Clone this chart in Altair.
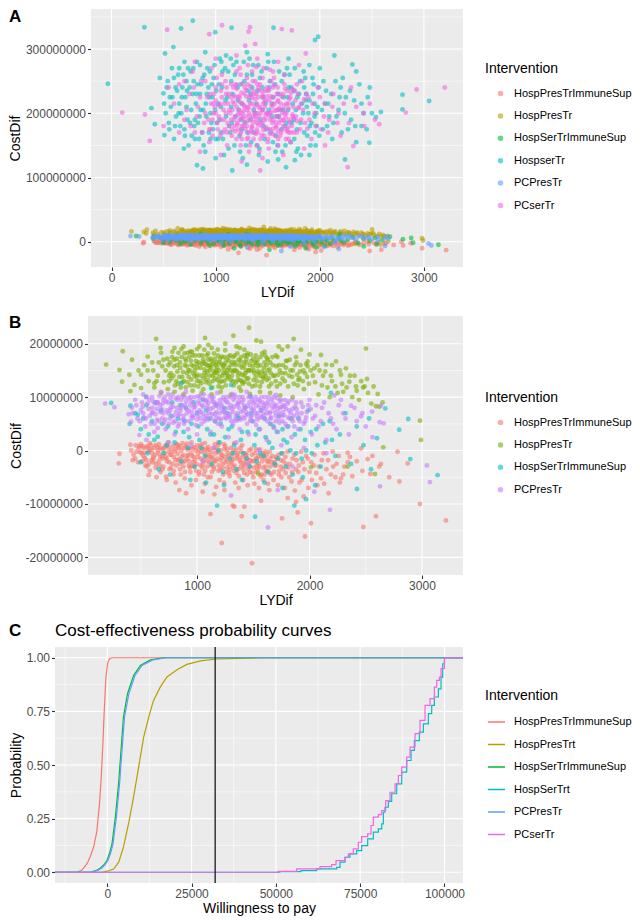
import altair as alt
import pandas as pd

FONT = "Liberation Sans"

A_NAMES = ["HospPresTrImmuneSup", "HospPresTr", "HospSerTrImmuneSup", "HospserTr", "PCPresTr", "PCserTr"]
A_COLORS = ["#F8766D", "#B79F00", "#00BA38", "#00BFC4", "#619CFF", "#F564E3"]
B_NAMES = ["HospPresTrImmuneSup", "HospPresTr", "HospSerTrImmuneSup", "PCPresTr"]
B_COLORS = ["#F8766D", "#7CAE00", "#00BFC4", "#C77CFF"]
C_NAMES = ["HospPresTrImmuneSup", "HospPresTrt", "HospSerTrImmuneSup", "HospSerTrt", "PCPresTr", "PCserTr"]
C_COLORS = ["#F8766D", "#B79F00", "#00BA38", "#00BFC4", "#619CFF", "#F564E3"]

# (LYDif, CostDif in units of 100 000)
hosp_pres_immune = [
    (1489, -211), (1219, -173), (1960, -161), (2013, -136), (2479, -143), (2591, -123), (2982, -100), (3213, -131),
    (1119, -119), (1397, -123), (1756, -127), (1895, -116), (1332, -105), (310, -6), (304, -24), (407, 11),
    (428, -18), (570, -46), (724, -49), (843, -74), (902, -80), (1050, -77), (1154, -82), (1243, -74),
    (1317, -103), (1421, -105), (1569, -94), (1643, -74), (1806, -89), (1880, -96), (1948, -86), (2102, -52),
    (2280, -52), (2339, -4), (2458, 4), (2517, -16), (2541, -44), (2635, -25), (2709, -50), (2783, -2),
    (2873, -24), (2206, -2),
    (480, 5), (520, -10), (560, 8), (600, -5), (630, 10), (660, -20), (690, 3), (720, -12), (750, 6), (780, -25),
    (800, -2), (820, 12), (840, -15), (860, 0), (880, -30), (900, 8), (920, -8), (940, -40), (960, 4), (980, -18),
    (1000, 10), (1010, -5), (1030, -28), (1050, 2), (1060, -45), (1080, -12), (1100, 7), (1110, -22), (1130, -3),
    (1150, -35), (1160, 12), (1180, -15), (1200, -55), (1210, 0), (1230, -25), (1250, 8), (1260, -40), (1280, -10),
    (1300, 5), (1320, -30), (1340, -60), (1360, -5), (1380, -18), (1400, 10), (1420, -42), (1440, -8), (1460, -25),
    (1480, 3), (1500, -50), (1520, -15), (1540, -35), (1560, 2), (1580, -20), (1600, -45), (1620, -8), (1650, -30),
    (1680, -55), (1700, -12), (1730, -38), (1760, -5), (1790, -25), (1820, -50), (1850, -15), (1880, -35),
    (1910, -60), (1940, -22), (1970, -10), (2000, -40), (2040, -28), (2070, -65), (2110, -18), (2150, -35),
    (2190, -45), (2240, -25), (2270, -60), (2310, -30), (2360, -12), (2420, -20),
    (450, -15), (500, 12), (540, -28), (580, -38), (610, -12), (640, -50), (670, 5), (700, -30), (730, -55),
    (760, -8), (790, -45), (810, -60), (850, -35), (870, 14), (890, -52), (930, -20), (950, -65), (970, -30),
    (990, -55), (1020, -40), (1040, 12), (1070, -62), (1090, -30), (1120, -50), (1140, -12), (1170, -68),
    (1190, -38), (1220, -14), (1240, -60), (1270, -32), (1290, -48), (1310, -5), (1350, -42), (1370, -70),
    (1390, -30), (1410, -55), (1430, -20), (1450, -65), (1470, -40), (1510, -62), (1530, -28), (1550, -70),
    (1590, -55), (1610, -30), (1630, -62), (1660, -45), (1690, -22), (1720, -65), (1750, -50), (1780, -70),
    (1810, -32), (1840, -58), (1870, -75), (1900, -40), (1930, -55), (1990, -70), (2020, -55), (2060, -42),
    (2130, -62), (2170, -80), (2230, -50), (2380, -48), (2470, -38), (2620, -30), (2800, -58), (2560, -10),
    (580, 14), (660, 12), (740, 15), (830, 10), (910, 13), (1070, 14), (1240, 12), (1330, 14), (1190, 15), (950, 15),
    (415, 0), (435, -8), (455, 10), (475, -22), (495, -3), (515, 8), (535, -14), (555, -30), (575, 2), (595, -18),
    (615, 5), (635, -25), (655, -5), (675, -40), (695, -15), (715, 8), (735, -20), (755, -35), (775, 0), (795, -12),
    (815, -28), (835, 5), (855, -45), (875, -8), (895, -20), (915, 2), (935, -32), (955, -10), (975, 6), (995, -25),
    (1015, -45), (1035, -2), (1055, -18), (1075, 4), (1095, -50), (1105, -8), (1125, -28), (1145, 5), (1165, -20),
    (1185, -2), (1205, -35), (1225, -8), (1245, 3), (1265, -18), (1285, -42), (1305, -22), (1325, 0), (1345, -15),
    (1365, -35), (1385, 5), (1405, -12), (1425, -28), (1445, -45), (1465, 0), (1485, -20), (1505, -32), (1525, 2),
    (1545, -10), (1565, -48), (1585, -5), (1605, -15), (1625, -38), (1645, -2), (1665, -22), (1685, -40),
    (1705, -28), (1725, -8), (1745, -18), (1765, -35), (1785, -12), (1805, -2), (1825, -25), (1845, -40),
    (1865, -8), (1885, -18), (1905, -28), (1925, -2), (1955, -35), (1985, -15), (2015, -22), (2045, -8),
    (2085, -30), (2125, -5), (2165, -18), (2210, -30), (2260, -10), (2300, -45), (2340, -22),
    (505, -5), (525, 5), (548, -18), (568, -2), (588, 10), (608, -22), (628, -8), (648, 6), (668, -28), (688, -10),
    (708, 4), (728, -15), (748, -2), (768, -32), (788, 8), (808, -18), (828, -6), (848, -25), (868, -12), (888, 5),
    (908, -15), (928, -28), (948, -5), (968, -22), (988, 0), (1008, -12), (1028, 8), (1048, -32), (1068, -5),
    (1088, -20), (1108, 2), (1128, -15), (1148, -30), (1168, -5), (1188, 10), (1208, -18), (1228, -32),
    (1248, -12), (1268, 2), (1288, -25), (1308, -12), (1328, -38), (1348, 2), (1368, -12), (1388, -22),
    (1408, -35), (1428, -5), (1448, -15), (1468, -30), (1488, -8), (1508, -20), (1528, -40), (1548, -25),
    (1568, -12), (1588, -32), (1608, -2), (1628, -20), (1648, -42), (1668, -10), (1688, -28), (1708, -15),
    (1728, -45), (1748, -30), (1768, -20), (1788, -42),
    (462, -2), (488, 8), (512, -20), (532, -4), (552, 6), (572, -25), (592, 2), (612, -15), (632, -32), (652, 0),
    (672, -12), (692, -35), (712, -5), (732, 10), (752, -22), (772, -8), (792, -38), (812, 3), (832, -18),
    (852, 8), (872, -22), (892, -40), (912, -10), (932, 4), (952, -28), (972, -12), (992, -38), (1012, 2),
    (1032, -15), (1052, -25), (1072, -38), (1092, 0), (1112, -12), (1132, -40), (1152, -20), (1172, 3),
    (1192, -28), (1212, -8), (1232, -45), (1252, -22), (1272, -5), (1292, -35), (1312, -18), (1332, -28),
    (1352, -8), (1372, -48), (1392, -2), (1412, -25), (1432, -10), (1452, -35), (1472, -18), (1492, -42),
    (1512, -5), (1532, -15), (1552, -30), (1572, -45), (1592, -10), (1612, -38), (1632, -22), (1652, -15),
]

hosp_pres = [
    (191, 161), (339, 186), (310, 151), (333, 129), (407, 111), (422, 170), (636, 209), (675, 192), (1071, 211),
    (1323, 215), (1462, 230), (1527, 206), (1569, 204), (1859, 209), (2502, 191), (2982, 56), (2991, 20),
    (2656, 6), (2582, -44), (2591, 83), (2570, 120), (2511, 134), (2476, 118), (2413, 120), (2606, 106),
    (2354, 129), (2324, 154), (2236, 167), (2147, 161), (2102, 179), (2043, 154), (1984, 167), (1924, 189),
    (1806, 195), (1756, 189), (1726, 195), (1622, 173), (1530, 164), (1421, 189), (1184, 189), (1065, 189),
    (917, 183), (799, 192), (680, 183), (561, 176), (502, 142), (398, 142), (443, 123), (502, 117), (621, 126),
    (680, 108), (2013, -31), (1545, -43), (2339, -30),
    (720, 150), (760, 165), (790, 140), (820, 172), (850, 155), (870, 128), (890, 160), (910, 145), (930, 175),
    (950, 133), (970, 158), (990, 168), (1000, 142), (1010, 120), (1030, 155), (1045, 178), (1060, 135),
    (1075, 162), (1090, 148), (1100, 170), (1110, 125), (1125, 155), (1140, 140), (1150, 182), (1165, 160),
    (1180, 132), (1195, 150), (1205, 172), (1220, 118), (1235, 145), (1250, 163), (1265, 135), (1280, 155),
    (1295, 178), (1310, 140), (1325, 122), (1340, 160), (1355, 148), (1370, 170), (1385, 132), (1400, 155),
    (1420, 140), (1440, 165), (1460, 125), (1480, 150), (1500, 172), (1520, 138), (1540, 158), (1560, 120),
    (1580, 148), (1600, 165), (1620, 132), (1645, 152), (1670, 175), (1690, 140), (1710, 120), (1730, 160),
    (1755, 145), (1780, 130), (1800, 168), (1830, 150), (1860, 125), (1890, 142), (1920, 160), (1950, 115),
    (1980, 138), (2010, 150), (2050, 128), (2080, 105), (2120, 140), (2160, 118), (2200, 130), (2250, 108),
    (2290, 125), (2380, 100), (2440, 95), (2520, 108), (2550, 88),
    (740, 115), (800, 110), (880, 105), (960, 112), (1040, 108), (1130, 105), (1210, 110), (1300, 104),
    (1390, 112), (1470, 106), (1560, 110), (1650, 108), (1740, 103), (1850, 100),
    (700, 170), (780, 185), (860, 190), (940, 185), (1020, 195), (1130, 192), (1250, 188), (1350, 195),
    (1450, 182), (1600, 185), (1700, 178), (1880, 175), (2000, 180), (2200, 160), (2280, 142),
    (650, 140), (690, 158), (750, 130), (830, 125), (900, 118), (980, 150), (1055, 170), (1115, 140),
    (1175, 165), (1240, 130), (1315, 165), (1375, 118), (1435, 150), (1510, 145), (1590, 135), (1660, 125),
    (1720, 142), (1790, 155), (1900, 132), (2090, 150), (560, 150), (600, 165), (620, 118), (1960, 145),
    (2400, 140), (2460, 130), (2300, 110), (2180, 100), (1000, 130), (1150, 148), (1230, 158), (1270, 142),
    (1420, 128), (1330, 150), (1080, 128), (950, 160), (1190, 120), (2650, 90), (2620, 82),
    (705, 128), (735, 172), (765, 145), (795, 158), (815, 130), (835, 183), (855, 118), (875, 147), (895, 172),
    (915, 128), (935, 150), (955, 185), (975, 122), (995, 138), (1015, 165), (1035, 140), (1055, 115),
    (1065, 152), (1085, 178), (1095, 132), (1105, 158), (1120, 172), (1135, 118), (1145, 163), (1160, 135),
    (1170, 150), (1185, 178), (1200, 128), (1215, 162), (1225, 140), (1240, 175), (1255, 122), (1270, 150),
    (1285, 168), (1300, 132), (1320, 148), (1335, 178), (1345, 128), (1365, 140), (1378, 160), (1392, 175),
    (1405, 125), (1415, 165), (1430, 145), (1445, 178), (1455, 135), (1470, 160), (1490, 120), (1505, 150),
    (1515, 165), (1535, 130), (1550, 145), (1565, 175), (1575, 128), (1595, 155), (1610, 140), (1630, 170),
    (1640, 120), (1655, 145), (1675, 160), (1700, 130), (1715, 175), (1740, 125), (1765, 160), (1785, 145),
    (1810, 120), (1825, 170), (1845, 138), (1870, 160), (1895, 122), (1915, 148), (1940, 130), (1970, 162),
    (1995, 125), (2030, 140), (2070, 160), (2110, 122), (2140, 148), (2190, 140), (2230, 120), (2270, 150),
    (2330, 118), (2360, 140), (2420, 112), (2490, 120), (610, 150), (640, 130), (660, 165), (570, 130),
    (530, 160), (480, 150),
    (745, 160), (772, 135), (798, 170), (825, 148), (848, 165), (868, 138), (888, 182), (908, 158), (925, 138),
    (945, 168), (962, 145), (985, 178), (1002, 155), (1022, 130), (1042, 162), (1068, 145), (1088, 160),
    (1112, 150), (1132, 168), (1158, 145), (1178, 156), (1198, 138), (1218, 176), (1238, 152), (1262, 170),
    (1282, 138), (1302, 160), (1322, 175), (1342, 150), (1362, 132), (1382, 168), (1402, 142), (1422, 178),
    (1442, 135), (1462, 150), (1482, 168), (1502, 132), (1522, 178), (1542, 148), (1562, 160), (1585, 138),
    (1605, 178), (1628, 150), (1650, 165), (1678, 140), (1705, 158), (1735, 150), (1760, 135), (1792, 168),
    (1820, 140), (1852, 150), (1885, 165), (1910, 135), (1945, 150), (1985, 158),
    (752, 140), (778, 175), (803, 122), (822, 160), (842, 138), (862, 175), (882, 130), (902, 168), (922, 150),
    (940, 122), (958, 178), (978, 140), (998, 162), (1018, 178), (1038, 126), (1058, 165), (1078, 140),
    (1098, 182), (1118, 160), (1138, 130), (1158, 172), (1178, 145), (1198, 165), (1218, 130), (1238, 160),
    (1258, 145), (1278, 176), (1298, 150), (1318, 130), (1338, 165), (1358, 182), (1378, 145), (1398, 130),
    (1418, 158), (1438, 172), (1458, 150), (1478, 180), (1498, 158), (1518, 122), (1538, 170), (1558, 140),
    (1578, 182), (1598, 145), (1618, 160), (1638, 135), (880, 195), (1000, 190), (1100, 198), (1250, 200),
    (1380, 192),
]

hosp_ser_immune = [
    (236, 89), (407, 84), (473, 67), (547, 101), (650, 26), (499, -22), (1178, -103), (1516, -124), (1865, -103),
    (1969, -91), (2422, -72), (2547, -35), (2600, 23), (2798, 39), (2878, 59), (2896, -16), (3139, -46),
    (2674, 79), (2191, 108), (858, 126), (1124, 117), (1302, 123), (1480, 101),
    (400, 50), (450, 70), (500, 40), (550, 85), (600, 55), (620, 20), (680, 75), (700, -5), (740, 45), (780, 90),
    (800, 15), (830, 60), (860, -20), (880, 35), (900, 80), (920, 5), (950, 50), (980, -30), (1000, 70),
    (1020, 20), (1050, 95), (1070, -10), (1090, 40), (1110, 60), (1130, -25), (1150, 30), (1170, 85), (1190, 0),
    (1210, 50), (1230, -40), (1250, 25), (1270, 70), (1290, -15), (1310, 45), (1330, 10), (1350, -35), (1370, 60),
    (1390, 20), (1410, -5), (1430, 80), (1450, 35), (1470, -30), (1490, 55), (1510, 10), (1530, -20), (1550, 40),
    (1570, 75), (1590, -10), (1610, 25), (1630, -40), (1650, 50), (1670, 5), (1690, -25), (1710, 35), (1730, 65),
    (1750, -5), (1770, 20), (1790, -30), (1810, 45), (1830, 0), (1850, -45), (1870, 30), (1900, 60), (1930, -15),
    (1960, 20), (1990, 75), (2020, -5), (2060, 40), (2100, -30), (2140, 15), (2180, 55), (2230, -10), (2270, 30),
    (2320, 70), (2370, -25), (2420, 45), (2480, 10), (2530, 60),
    (560, -5), (660, -35), (760, -45), (940, -55), (1080, -60), (1240, -65), (1400, -55), (1600, -60),
    (1760, -70), (1940, -50), (2050, -65),
    (520, 60), (570, 30), (630, 90), (690, 50), (730, 10), (770, 65), (810, 35), (850, 85), (890, 55), (930, 25),
    (970, 90), (1010, 45), (1040, 5), (1080, 75), (1120, 30), (1160, 55), (1200, 15), (1240, 80), (1280, 40),
    (1320, -5), (1360, 65), (1400, 35), (1440, -15), (1480, 70), (1520, 30), (1560, -5), (1600, 60), (1640, 15),
    (1680, 45), (1720, -15), (1760, 40), (1800, 15), (1840, 60), (1880, -5), (1920, 40), (1970, 0), (2010, 35),
    (2070, 10), (2120, 50), (2200, 20),
]

pc_pres = [
    (182, 88), (265, 81), (393, 68), (413, 54), (487, 29), (2221, 103), (2369, 84), (2458, 64), (2556, 73),
    (2635, 84), (2624, 53), (2659, 51), (3044, -28), (3071, -59), (2627, -67), (2182, -111), (1631, -144),
    (1302, -84), (1717, -74), (2043, -77), (2280, 95),
    (420, 80), (450, 95), (470, 60), (500, 75), (520, 105), (540, 45), (560, 88), (580, 65), (600, 100), (620, 35),
    (640, 78), (660, 55), (680, 110), (700, 70), (720, 40), (740, 90), (760, 60), (780, 105), (800, 30), (820, 80),
    (840, 50), (860, 95), (880, 65), (900, 110), (920, 40), (940, 85), (960, 60), (980, 100), (1000, 30),
    (1020, 75), (1040, 50), (1060, 105), (1080, 65), (1100, 90), (1120, 35), (1140, 80), (1160, 55), (1180, 108),
    (1200, 70), (1220, 45), (1240, 95), (1260, 60), (1280, 25), (1300, 85), (1320, 50), (1340, 100), (1360, 70),
    (1380, 40), (1400, 90), (1420, 60), (1440, 110), (1460, 30), (1480, 80), (1500, 55), (1520, 100), (1540, 70),
    (1560, 40), (1580, 90), (1600, 60), (1620, 20), (1640, 85), (1660, 50), (1680, 100), (1700, 65), (1720, 35),
    (1740, 80), (1760, 55), (1780, 95), (1800, 45), (1820, 75), (1840, 25), (1860, 65), (1880, 90), (1900, 40),
    (1930, 70), (1960, 55), (1990, 85), (2020, 30), (2050, 65), (2080, 45), (2110, 80), (2150, 20), (2190, 60),
    (2240, 40), (2300, 70), (2350, 30), (2420, 55), (2500, 45), (2560, 25),
    (520, 70), (600, 80), (700, 95), (760, 75), (830, 65), (890, 85), (950, 72), (1010, 92), (1050, 68),
    (1090, 78), (1130, 98), (1170, 72), (1210, 88), (1250, 78), (1290, 68), (1330, 82), (1370, 92), (1410, 75),
    (1450, 68), (1490, 95), (1530, 85), (1570, 75), (1610, 88), (1650, 72), (1690, 82), (1730, 70), (1770, 85),
    (1810, 62), (1850, 78), (550, 20), (750, 15), (950, 10), (1150, 5), (1350, 15), (1550, 0), (1750, 10),
    (1950, 5), (2150, -5), (1050, -20), (1450, -25), (1850, -30), (650, 90), (870, 102), (1310, 106),
    (1470, 102), (1700, 104),
    (430, 70), (460, 85), (490, 55), (510, 90), (530, 62), (550, 100), (570, 78), (590, 50), (610, 92), (630, 68),
    (650, 42), (670, 85), (690, 60), (710, 100), (730, 75), (750, 50), (770, 88), (790, 65), (810, 98), (830, 45),
    (850, 75), (870, 58), (890, 100), (910, 70), (930, 55), (950, 92), (970, 80), (990, 48), (1005, 65),
    (1025, 100), (1045, 85), (1065, 55), (1085, 95), (1105, 70), (1125, 60), (1145, 100), (1165, 85), (1185, 50),
    (1205, 95), (1225, 75), (1245, 62), (1265, 100), (1285, 80), (1305, 55), (1325, 95), (1345, 65), (1365, 88),
    (1385, 58), (1405, 100), (1425, 80), (1445, 50), (1465, 90), (1485, 65), (1505, 78), (1525, 48), (1545, 95),
    (1565, 62), (1585, 80), (1605, 100), (1625, 55), (1645, 70), (1665, 95), (1685, 42), (1705, 85), (1725, 60),
    (1745, 95), (1765, 72), (1785, 50), (1805, 88), (1825, 60), (1845, 95), (1865, 45), (1885, 78), (1905, 62),
    (1925, 90), (1950, 50), (1975, 72), (2000, 95), (2030, 60), (2060, 85), (2100, 55), (2130, 90), (2170, 70),
    (2210, 50), (2260, 85), (2320, 60), (2400, 80), (2470, 70),
    (605, 72), (625, 88), (645, 58), (665, 102), (685, 78), (705, 52), (725, 92), (745, 70), (765, 98), (785, 82),
    (805, 55), (825, 95), (845, 68), (865, 85), (885, 50), (905, 92), (925, 75), (945, 100), (965, 65), (985, 82),
    (1002, 58), (1018, 88), (1035, 72), (1055, 96), (1072, 60), (1092, 84), (1112, 102), (1132, 68), (1152, 90),
    (1172, 62), (1192, 80), (1212, 58), (1232, 100), (1252, 70), (1272, 90), (1292, 62), (1312, 78), (1332, 104),
    (1352, 56), (1372, 80), (1392, 72), (1412, 95), (1432, 66), (1452, 84), (1472, 56), (1492, 74), (1512, 92),
    (1532, 64), (1552, 82), (1572, 100), (1592, 68), (1612, 78), (1632, 92), (1652, 60), (1672, 80), (1692, 72),
    (1712, 98), (1732, 52), (1752, 82), (1772, 66), (1792, 78), (1812, 92), (1832, 70), (1852, 55), (1872, 82),
    (1892, 70), (1912, 55), (1940, 82), (1970, 62), (2010, 78),
    (515, 82), (545, 60), (575, 95), (598, 70), (622, 50), (648, 90), (672, 72), (695, 88), (718, 58), (742, 105),
    (765, 80), (788, 52), (812, 72), (835, 100), (858, 80), (882, 58), (905, 78), (928, 98), (952, 64), (975, 86),
    (998, 72), (1012, 102), (1032, 60), (1052, 82), (1078, 92), (1098, 58), (1118, 78), (1138, 92), (1158, 68),
    (1178, 88), (1198, 60), (1218, 84), (1238, 72), (1258, 92), (1278, 64), (1298, 100), (1318, 72), (1338, 58),
    (1358, 86), (1378, 100), (1398, 62), (1418, 84), (1438, 72), (1458, 100), (1478, 62), (1498, 88), (1518, 70),
    (1538, 58), (1558, 92), (1578, 64), (1598, 84), (1618, 70), (1638, 100), (1658, 62), (1678, 88), (1698, 55),
    (1718, 78), (1738, 92), (1758, 65), (1778, 82),
]

# (LYDif, CostDif in millions)
hosp_ser = [
    (-35, 246), (316, 334), (780, 344), (668, 332), (996, 326), (1153, 333), (1556, 333), (1954, 314), (1985, 319),
    (514, 293), (594, 303), (2313, 276), (2140, 290), (2794, 229), (3050, 219), (2794, 206), (2587, 202),
    (2539, 194), (2476, 154), (821, 119), (878, 114), (1159, 111), (1676, 116), (1760, 127), (2242, 128),
    (508, 166), (416, 183), (383, 208), (464, 255), (498, 231),
    (560, 225), (600, 255), (620, 195), (650, 270), (680, 240), (700, 175), (720, 210), (740, 150), (760, 265),
    (780, 230), (800, 190), (820, 280), (840, 160), (860, 245), (880, 205), (900, 140), (920, 270), (940, 225),
    (960, 185), (980, 255), (1000, 160), (1020, 215), (1040, 285), (1060, 240), (1080, 135), (1100, 195),
    (1120, 265), (1140, 170), (1160, 230), (1180, 150), (1200, 280), (1220, 205), (1240, 245), (1260, 130),
    (1280, 185), (1300, 260), (1320, 220), (1340, 155), (1360, 275), (1380, 200), (1400, 235), (1420, 145),
    (1440, 265), (1460, 180), (1480, 215), (1500, 125), (1520, 250), (1540, 195), (1560, 280), (1580, 165),
    (1600, 230), (1620, 205), (1640, 140), (1660, 260), (1680, 185), (1700, 240), (1720, 155), (1740, 215),
    (1760, 270), (1780, 175), (1800, 230), (1820, 135), (1840, 200), (1860, 255), (1880, 165), (1900, 220),
    (1920, 185), (1940, 245), (1960, 150), (1980, 210), (2000, 270), (2030, 175), (2060, 235), (2090, 195),
    (2120, 160), (2150, 250), (2180, 205), (2210, 170), (2250, 225), (2300, 190), (2350, 155), (2400, 215),
    (2450, 175), (2500, 200),
    (650, 215), (720, 250), (800, 160), (850, 275), (950, 200), (1050, 170), (1150, 250), (1250, 175),
    (1350, 240), (1450, 205), (1550, 155), (1650, 225), (1750, 190), (1850, 240), (1950, 195), (2050, 215),
    (2200, 240), (700, 280), (900, 295), (1100, 290), (1300, 295), (1500, 292), (1700, 285), (1900, 275),
    (1000, 130), (1300, 120), (1600, 128), (1900, 135), (600, 160), (550, 185), (520, 200), (580, 270),
    (2400, 180), (2350, 265),
    (540, 250), (570, 210), (630, 235), (660, 180), (690, 260), (710, 225), (730, 190), (750, 240), (770, 165),
    (790, 250), (810, 215), (830, 185), (850, 230), (870, 170), (890, 260), (910, 195), (930, 240), (950, 160),
    (970, 225), (990, 275), (1010, 185), (1030, 245), (1050, 210), (1070, 160), (1090, 270), (1110, 225),
    (1130, 180), (1150, 210), (1170, 275), (1190, 195), (1210, 240), (1230, 165), (1250, 215), (1270, 280),
    (1290, 150), (1310, 235), (1330, 190), (1350, 260), (1370, 170), (1390, 215), (1410, 275), (1430, 190),
    (1450, 240), (1470, 160), (1490, 270), (1510, 205), (1530, 170), (1550, 225), (1570, 245), (1590, 195),
    (1610, 265), (1630, 175), (1650, 205), (1670, 150), (1690, 225), (1710, 260), (1730, 185), (1750, 235),
    (1770, 205), (1790, 145), (1810, 250), (1830, 215), (1850, 170), (1870, 230), (1890, 200), (1910, 150),
    (1930, 255), (1950, 215), (1970, 180), (1990, 240), (2020, 205), (2070, 180), (2110, 230), (2160, 195),
    (2220, 255), (2270, 175), (2330, 220), (2380, 245), (2460, 225),
    (615, 240), (645, 200), (675, 225), (705, 165), (735, 270), (765, 205), (795, 180), (825, 245), (855, 205),
    (885, 150), (915, 230), (945, 265), (975, 175), (1005, 235), (1035, 190), (1065, 265), (1095, 220),
    (1125, 145), (1155, 185), (1185, 260), (1215, 220), (1245, 190), (1275, 250), (1305, 170), (1335, 230),
    (1365, 205), (1395, 150), (1425, 255), (1455, 225), (1485, 175), (1515, 240), (1545, 215), (1575, 140),
    (1605, 195), (1635, 250), (1665, 180), (1695, 205), (1725, 240), (1755, 160), (1785, 225), (1815, 185),
    (1845, 265), (1875, 210), (1905, 180), (1935, 230), (1965, 200), (1995, 165), (2035, 250), (2080, 215),
    (2130, 185), (2190, 225), (2240, 200), (2290, 235), (2340, 180), (2420, 200), (2480, 240),
    (505, 215), (530, 240), (555, 175), (585, 225), (610, 180), (640, 260), (670, 200), (695, 145), (725, 235),
    (755, 185), (785, 270), (815, 230), (845, 195), (875, 255), (905, 215), (935, 170), (965, 245), (995, 205),
    (1025, 160), (1055, 280), (1145, 285), (1235, 140), (1325, 285), (1415, 135), (1505, 280), (1595, 150),
    (1685, 270), (1775, 140), (1865, 220), (1955, 170),
]

pc_ser = [
    (103, 201), (534, 330), (939, 323), (1061, 337), (1329, 334), (1316, 327), (1635, 331), (1731, 329),
    (3200, 240), (2929, 237), (2826, 201), (2571, 183), (2428, 180), (2322, 149), (2268, 116), (368, 157),
    (320, 198), (1428, 111), (1284, 305), (1380, 308), (1865, 293),
    (600, 215), (650, 245), (700, 190), (750, 230), (780, 265), (800, 170), (830, 210), (860, 250), (890, 185),
    (920, 225), (940, 155), (960, 270), (980, 200), (1000, 240), (1020, 175), (1040, 215), (1060, 260),
    (1080, 190), (1100, 230), (1110, 150), (1130, 205), (1150, 245), (1160, 175), (1180, 215), (1200, 265),
    (1210, 185), (1230, 225), (1250, 160), (1260, 200), (1280, 240), (1300, 180), (1310, 275), (1330, 215),
    (1350, 170), (1360, 195), (1380, 250), (1400, 185), (1410, 225), (1430, 160), (1450, 205), (1460, 270),
    (1480, 190), (1500, 235), (1520, 175), (1540, 210), (1560, 255), (1580, 180), (1600, 220), (1620, 165),
    (1640, 200), (1660, 245), (1680, 175), (1700, 215), (1720, 155), (1740, 195), (1760, 235), (1780, 170),
    (1800, 210), (1830, 250), (1860, 185), (1890, 225), (1920, 160), (1950, 200), (1980, 240), (2010, 175),
    (2050, 215), (2090, 190), (2130, 230), (2180, 200), (2230, 215), (2280, 185), (2350, 210), (2420, 200),
    (2480, 215), (2530, 190),
    (1100, 200), (1150, 190), (1200, 210), (1250, 195), (1300, 205), (1350, 215), (1400, 200), (1450, 185),
    (1500, 200), (1550, 190), (1600, 205), (1250, 180), (1350, 180), (1450, 225), (1150, 225), (1050, 190),
    (1650, 190), (1700, 170), (1300, 160), (1200, 160), (1400, 150), (1500, 155), (1600, 150), (1700, 160),
    (1200, 245), (1400, 245), (1550, 240), (900, 200), (950, 175), (1000, 220), (700, 250), (800, 280),
    (1000, 285), (1200, 290), (1400, 285), (1600, 280), (1800, 275), (850, 140), (1050, 135), (1250, 125),
    (1450, 130), (1650, 135), (1850, 145), (2050, 150), (500, 180), (550, 240), (650, 170), (2200, 165),
    (2300, 240),
    (720, 205), (760, 180), (790, 240), (820, 195), (850, 225), (870, 170), (900, 250), (930, 190), (950, 230),
    (970, 165), (990, 210), (1010, 255), (1030, 195), (1050, 235), (1070, 170), (1085, 215), (1095, 250),
    (1115, 185), (1125, 230), (1140, 200), (1155, 165), (1170, 240), (1185, 195), (1195, 225), (1215, 175),
    (1225, 205), (1240, 260), (1255, 215), (1265, 180), (1275, 230), (1290, 195), (1305, 245), (1315, 170),
    (1325, 225), (1340, 190), (1355, 235), (1365, 160), (1375, 210), (1390, 230), (1395, 175), (1415, 195),
    (1425, 245), (1440, 180), (1455, 215), (1465, 165), (1475, 235), (1490, 200), (1505, 175), (1515, 220),
    (1530, 250), (1545, 185), (1555, 225), (1570, 165), (1585, 205), (1595, 240), (1610, 185), (1625, 215),
    (1635, 175), (1650, 230), (1665, 200), (1675, 160), (1690, 235), (1705, 190), (1715, 225), (1730, 180),
    (1745, 210), (1770, 195), (1790, 230), (1810, 175), (1840, 205), (1870, 230), (1900, 190), (1930, 215),
    (1960, 180), (2000, 225), (2040, 195), (2080, 170), (2120, 210), (2170, 185), (1180, 180), (1280, 210),
    (1380, 195), (1480, 220), (1580, 195), (1680, 215), (1320, 200), (1420, 210), (1520, 200), (1230, 190),
    (1160, 205), (1172, 228), (1188, 172), (1202, 238), (1212, 198), (1228, 218), (1236, 168), (1248, 232),
    (1262, 192), (1272, 212), (1286, 176), (1296, 226), (1308, 188), (1318, 208), (1332, 242), (1342, 174),
    (1352, 224), (1362, 186), (1372, 230), (1386, 168), (1398, 214), (1408, 182), (1418, 236), (1432, 200),
    (1442, 166), (1452, 228), (1462, 192), (1472, 210), (1486, 178), (1496, 240), (1508, 196), (1518, 168),
    (1528, 226), (1538, 202), (1552, 176), (1562, 214), (1576, 186), (1588, 230), (1598, 172), (1612, 208),
    (1622, 190), (1636, 226), (1648, 180), (1660, 212), (1672, 194), (1686, 172), (1698, 208), (1712, 186),
    (1724, 232), (1738, 198), (1752, 170), (1766, 220), (1780, 188), (1796, 208), (1820, 190), (1850, 222),
    (1880, 176), (1130, 180), (1120, 215), (1105, 240), (1090, 175), (1075, 205), (1060, 225), (1045, 165),
    (1030, 212), (1015, 185), (1000, 200), (985, 230), (970, 190), (955, 215), (940, 175), (1240, 150),
    (1330, 150), (1420, 140), (1510, 145), (1600, 160), (1300, 255), (1450, 255), (1350, 265), (1550, 265),
    (1165, 218), (1178, 190), (1192, 244), (1206, 182), (1219, 226), (1233, 200), (1246, 172), (1258, 246),
    (1269, 204), (1281, 186), (1294, 236), (1306, 210), (1313, 162), (1327, 196), (1338, 228), (1349, 178),
    (1358, 250), (1369, 202), (1381, 222), (1393, 190), (1403, 170), (1412, 240), (1424, 208), (1436, 186),
    (1448, 234), (1458, 174), (1469, 218), (1481, 198), (1493, 226), (1503, 160), (1512, 236), (1524, 190),
    (1536, 214), (1548, 168), (1559, 244), (1571, 204), (1582, 178), (1594, 218), (1606, 196), (1617, 230),
    (1629, 170), (1641, 206), (1653, 188), (1667, 238), (1679, 200), (1693, 178), (1708, 222), (1722, 170),
    (1736, 238), (1750, 192), (1230, 270), (1390, 272), (1520, 268), (1110, 170), (1060, 245), (980, 215),
    (1780, 245), (1820, 215), (1660, 260), (1320, 140),
]

# Cost-effectiveness curves: (willingness to pay, probability)
curve_hosp_pres_immune = [(-15500, 0), (-9000, 0), (-7500, 0.01), (-6000, 0.04), (-5000, 0.075), (-4000, 0.12),
                          (-3100, 0.19), (-2300, 0.32), (-1800, 0.44), (-1300, 0.60), (-900, 0.75), (-400, 0.91),
                          (0, 0.96), (200, 0.98), (700, 0.995), (1400, 1.0), (105500, 1.0)]
curve_hosp_pres = [(-15500, 0), (-1500, 0), (0, 0.005), (1900, 0.015), (3400, 0.047), (4800, 0.117), (6300, 0.225),
                   (7800, 0.35), (9300, 0.49), (10800, 0.63), (12300, 0.723), (13700, 0.80), (15700, 0.863),
                   (17700, 0.91), (20700, 0.944), (23600, 0.969), (27600, 0.985), (32500, 0.994), (39500, 0.997),
                   (45000, 1.0), (105500, 1.0)]
curve_hosp_ser_immune = [(-15500, 0), (-5000, 0), (-3000, 0.01), (-2000, 0.02), (-1000, 0.035), (-100, 0.055),
                         (700, 0.09), (1400, 0.132), (2400, 0.257), (3350, 0.412), (4000, 0.552), (4800, 0.723),
                         (6000, 0.832), (7800, 0.917), (9800, 0.964), (12800, 0.99), (16700, 1.0), (105500, 1.0)]
curve_pc_pres = [(-15500, 0), (-4500, 0), (-2700, 0.01), (-1600, 0.02), (-700, 0.035), (200, 0.055), (1000, 0.09),
                 (1700, 0.13), (2700, 0.257), (3650, 0.412), (4300, 0.552), (5100, 0.723), (6400, 0.832),
                 (8200, 0.917), (10300, 0.964), (13500, 0.99), (17500, 1.0), (105500, 1.0)]
curve_hosp_ser = [(-15500, 0), (51200, 0.003), (57450, 0.008), (62100, 0.016), (68030, 0.023), (69020, 0.047),
                  (70510, 0.07), (71990, 0.086), (73970, 0.101), (75450, 0.124), (77230, 0.156), (78910, 0.187),
                  (80400, 0.202), (81390, 0.226), (81880, 0.28), (82370, 0.303), (83360, 0.33), (84350, 0.366),
                  (85840, 0.412), (87320, 0.467), (88800, 0.521), (90090, 0.568), (91080, 0.614), (92560, 0.653),
                  (93750, 0.692), (95230, 0.739), (96220, 0.778), (97010, 0.817), (98200, 0.855), (98990, 0.91),
                  (99480, 0.972), (100000, 1.0), (105500, 1.0)]
curve_pc_ser = [(-15500, 0), (50700, 0.004), (56170, 0.016), (63090, 0.026), (66550, 0.036), (67840, 0.054),
                (70510, 0.07), (71500, 0.086), (72980, 0.109), (74460, 0.14), (75450, 0.166), (77230, 0.179),
                (78220, 0.218), (78910, 0.257), (80400, 0.269), (81390, 0.288), (82570, 0.334), (83860, 0.373),
                (85340, 0.412), (86330, 0.451), (87320, 0.49), (88800, 0.537), (89790, 0.583), (91280, 0.646),
                (92760, 0.708), (94240, 0.778), (95730, 0.809), (97010, 0.863), (97700, 0.894), (98500, 0.91),
                (98990, 0.949), (100000, 1.0), (105500, 1.0)]
wtp_threshold = [32000]
panel_titles = ["A", "B", "C"]
c_title = "Cost-effectiveness probability curves"

# tick / grid break values
A_X_MAJOR = [0, 1000, 2000, 3000]
A_X_MINOR = [500, 1500, 2500]
A_Y_MAJOR = [0, 1e8, 2e8, 3e8]
A_Y_MINOR = [5e7, 1.5e8, 2.5e8, 3.5e8]
B_X_MAJOR = [1000, 2000, 3000]
B_X_MINOR = [500, 1500, 2500]
B_Y_MAJOR = [-2e7, -1e7, 0, 1e7, 2e7]
B_Y_MINOR = [-1.5e7, -5e6, 5e6, 1.5e7]
C_X_MAJOR = [0, 25000, 50000, 75000, 100000]
C_X_MINOR = [-12500, 12500, 37500, 62500, 87500]
C_Y_MAJOR = [0, 0.25, 0.5, 0.75, 1.0]
C_Y_MINOR = [0.125, 0.375, 0.625, 0.875]


def scatter_df(groups, names, scale):
    rows = []
    for pts, name in zip(groups, names):
        for lx, c in pts:
            rows.append({"LYDif": lx, "CostDif": c * scale, "Intervention": name})
    return pd.DataFrame(rows)


def curve_df(groups, names):
    rows = []
    for pts, name in zip(groups, names):
        for w, p in pts:
            rows.append({"WTP": w, "Probability": p, "Intervention": name})
    return pd.DataFrame(rows)


dfA = pd.concat([
    scatter_df([hosp_pres_immune, hosp_pres, hosp_ser_immune], A_NAMES[:3], 1e5),
    scatter_df([hosp_ser], [A_NAMES[3]], 1e6),
    scatter_df([pc_pres], [A_NAMES[4]], 1e5),
    scatter_df([pc_ser], [A_NAMES[5]], 1e6),
], ignore_index=True)
dfB = scatter_df([hosp_pres_immune, hosp_pres, hosp_ser_immune, pc_pres], B_NAMES, 1e5)
dfC_smooth = curve_df([curve_hosp_pres_immune, curve_hosp_pres, curve_hosp_ser_immune, curve_pc_pres],
                      [C_NAMES[0], C_NAMES[1], C_NAMES[2], C_NAMES[4]])
dfC_step = curve_df([curve_hosp_ser, curve_pc_ser], [C_NAMES[3], C_NAMES[5]])

W = 408  # common group width; each panel's plot area starts at x0 inside it


def text_mark(txt, dx, dy, bold=True):
    return alt.Chart(pd.DataFrame({"lab": [txt]})).mark_text(
        align="left", baseline="alphabetic", fontSize=17, fontWeight="bold" if bold else "normal",
        font=FONT, color="black"
    ).encode(text="lab:N", x=alt.value(dx), y=alt.value(dy))


def panel(x0, h, xfield, yfield, xs, ys, xax, yax, xmaj, xmin, ymaj, ymin, data_layers, letter, ly, extra=()):
    bg = alt.Chart(pd.DataFrame({"a": [0]})).mark_rect(color="#EBEBEB").encode(
        x=alt.value(x0), x2=alt.value(W), y=alt.value(0), y2=alt.value(h))
    grids = []
    for vals, wdt in ((ymin, 0.55), (ymaj, 1.1)):
        grids.append(alt.Chart(pd.DataFrame({yfield: vals})).mark_rule(color="white", strokeWidth=wdt).encode(
            y=alt.Y(f"{yfield}:Q", scale=ys, axis=yax), x=alt.value(x0), x2=alt.value(W)))
    for vals, wdt in ((xmin, 0.55), (xmaj, 1.1)):
        grids.append(alt.Chart(pd.DataFrame({xfield: vals})).mark_rule(color="white", strokeWidth=wdt).encode(
            x=alt.X(f"{xfield}:Q", scale=xs, axis=xax), y=alt.value(0), y2=alt.value(h)))
    return alt.layer(bg, *grids, *data_layers, text_mark(letter, -46, ly), *extra).properties(width=W, height=h)


def std_axis(values, title, label, **kw):
    return alt.Axis(values=values, title=title, grid=False, labelExpr=label, labelOverlap=False,
                    labelFlush=False, **kw)


def dot_legend(ly):
    return alt.Legend(title="Intervention", orient="none", legendX=430, legendY=ly, symbolType="circle",
                      symbolSize=30, symbolOpacity=0.6, symbolStrokeWidth=0, rowPadding=10.4,
                      titlePadding=12, symbolOffset=10, labelOffset=8)


# Panel A  (plot area starts 36 px into the group)
xsA = alt.Scale(domain=[-197, 3375], range=[36, W], nice=False, zero=False)
ysA = alt.Scale(domain=[-39.3e6, 362.3e6], nice=False, zero=False)
xaxA = std_axis(A_X_MAJOR, "LYDif", "toString(datum.value)", titlePadding=2)
yaxA = std_axis(A_Y_MAJOR, "CostDif", "toString(datum.value)", titlePadding=2.5, offset=-36)
scatA = alt.Chart(dfA).mark_circle(size=24, opacity=0.6).encode(
    x=alt.X("LYDif:Q", scale=xsA, axis=xaxA),
    y=alt.Y("CostDif:Q", scale=ysA, axis=yaxA),
    color=alt.Color("Intervention:N", scale=alt.Scale(domain=A_NAMES, range=A_COLORS), legend=dot_legend(53)),
)
panelA = panel(36, 258, "LYDif", "CostDif", xsA, ysA, xaxA, yaxA, A_X_MAJOR, A_X_MINOR, A_Y_MAJOR, A_Y_MINOR,
               [scatA], panel_titles[0], 13)

# Panel B  (plot area starts 33 px into the group)
xsB = alt.Scale(domain=[30, 3365], range=[33, W], nice=False, zero=False)
ysB = alt.Scale(domain=[-23.3e6, 25.2e6], nice=False, zero=False)
xaxB = std_axis(B_X_MAJOR, "LYDif", "toString(datum.value)", titlePadding=2)
yaxB = std_axis(B_Y_MAJOR, "CostDif", "toString(datum.value)", titlePadding=2, offset=-33)
scatB = alt.Chart(dfB).mark_circle(size=24, opacity=0.6).encode(
    x=alt.X("LYDif:Q", scale=xsB, axis=xaxB),
    y=alt.Y("CostDif:Q", scale=ysB, axis=yaxB),
    color=alt.Color("Intervention:N", scale=alt.Scale(domain=B_NAMES, range=B_COLORS), legend=dot_legend(75)),
)
panelB = panel(33, 259, "LYDif", "CostDif", xsB, ysB, xaxB, yaxB, B_X_MAJOR, B_X_MINOR, B_Y_MAJOR, B_Y_MINOR,
               [scatB], panel_titles[1], 12)

# Panel C
xsC = alt.Scale(domain=[-15500, 105500], range=[0, W], nice=False, zero=False)
ysC = alt.Scale(domain=[-0.05, 1.05], nice=False, zero=False)
xaxC = std_axis(C_X_MAJOR, "Willingness to pay", "toString(datum.value)", titlePadding=2)
yaxC = std_axis(C_Y_MAJOR, "Probability", "format(datum.value, '.2f')", titlePadding=3)
colC = alt.Color("Intervention:N", scale=alt.Scale(domain=C_NAMES, range=C_COLORS),
                 legend=alt.Legend(title="Intervention", orient="none", legendX=430, legendY=42,
                                   symbolType="stroke", symbolSize=289, symbolStrokeWidth=1.5,
                                   rowPadding=7.5, titlePadding=9.5, symbolOffset=2, labelOffset=8))
smooth = alt.Chart(dfC_smooth).mark_line(strokeWidth=1.2, clip=True).encode(
    x=alt.X("WTP:Q", scale=xsC, axis=xaxC), y=alt.Y("Probability:Q", scale=ysC, axis=yaxC), color=colC)
steps = alt.Chart(dfC_step).mark_line(strokeWidth=1.2, interpolate="step-after", clip=True).encode(
    x=alt.X("WTP:Q", scale=xsC, axis=xaxC), y=alt.Y("Probability:Q", scale=ysC, axis=yaxC), color=colC)
vline = alt.Chart(pd.DataFrame({"WTP": wtp_threshold})).mark_rule(color="#1a1a1a", strokeWidth=1.3).encode(
    x=alt.X("WTP:Q", scale=xsC, axis=xaxC))
panelC = panel(0, 236, "WTP", "Probability", xsC, ysC, xaxC, yaxC, C_X_MAJOR, C_X_MINOR, C_Y_MAJOR, C_Y_MINOR,
               [smooth, steps, vline], panel_titles[2], -11, extra=[text_mark(c_title, 0, -11, bold=False)])

chart = alt.vconcat(panelA, panelB, panelC, spacing=14).resolve_scale(
    x="independent", y="independent", color="independent"
).resolve_legend(color="independent").properties(
    padding={"left": 0, "top": 0, "right": 0, "bottom": 0}
).configure_view(strokeWidth=0).configure_axis(
    domain=False, labelColor="#4D4D4D", labelFont=FONT, labelFontSize=12,
    titleFont=FONT, titleFontSize=14, titleFontWeight="normal", titleColor="black",
    tickSize=3.5, tickWidth=1.1, tickColor="#333333", labelPadding=2,
).configure_legend(
    titleFont=FONT, titleFontSize=14, titleFontWeight="normal", titleColor="black",
    labelFont=FONT, labelFontSize=11, labelColor="black", padding=0,
)

chart.save("out.html", embed_options={"renderer": "svg", "actions": False})
